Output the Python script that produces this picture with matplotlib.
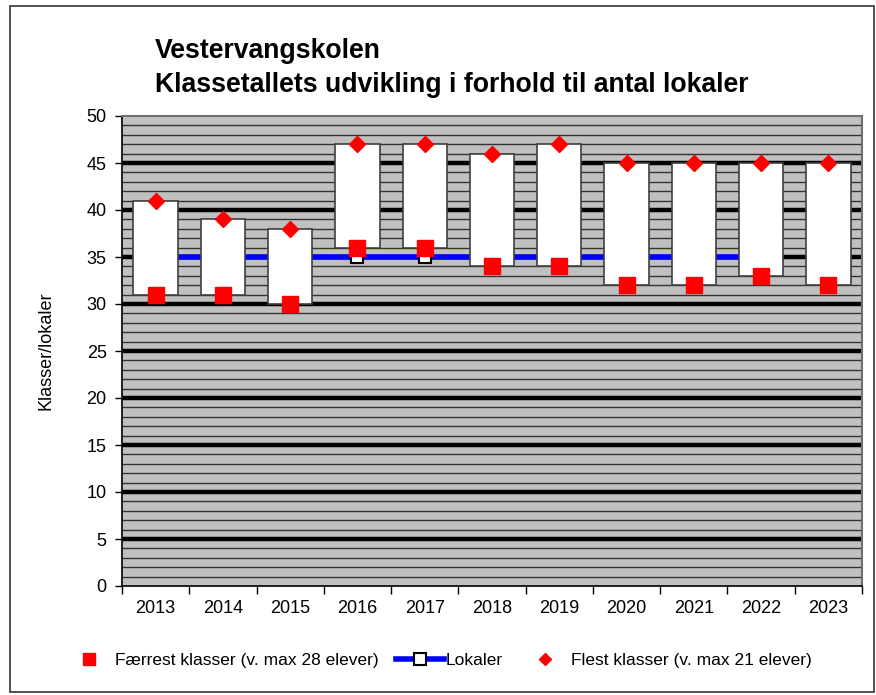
import matplotlib
matplotlib.use("Agg")
import matplotlib.pyplot as plt
from matplotlib.patches import Rectangle
from matplotlib.lines import Line2D
import numpy as np

plt.rcParams['font.family'] = ['Liberation Sans', 'DejaVu Sans']

years = ['2013', '2014', '2015', '2016', '2017', '2018', '2019', '2020', '2021', '2022', '2023']
faerrest = [31, 31, 30, 36, 36, 34, 34, 32, 32, 33, 32]
flest = [41, 39, 38, 47, 47, 46, 47, 45, 45, 45, 45]
lokaler = [35, 35, 35, 35, 35, 35, 35, 35, 35, 35]

W, H = 876, 695
fig = plt.figure(figsize=(W / 100, H / 100), dpi=100)
fig.patch.set_facecolor('white')
fig.add_artist(Rectangle((10 / W, 1 - 692 / H), 864 / W, 686 / H, transform=fig.transFigure,
                         fill=False, edgecolor='#333333', linewidth=1.2))

L, R, T, B = 122, 862, 116, 586
ax = fig.add_axes([L / W, 1 - B / H, (R - L) / W, (B - T) / H])
ax.set_facecolor('#c0c0c0')

x = np.arange(len(years))
ax.set_xlim(-0.5, len(years) - 0.5)
ax.set_ylim(0, 50)

# gridlines
for v in range(1, 50):
    if v % 5 == 0:
        ax.axhline(v, color='black', linewidth=3.2, zorder=1)
    else:
        ax.axhline(v, color='#333333', linewidth=1.0, zorder=1)

# Lokaler line (behind bars)
xl = x[:len(lokaler)]
ax.plot(xl, lokaler, color='#0000ff', linewidth=4, zorder=2)
ax.plot(xl, lokaler, linestyle='none', marker='s', markersize=9, markerfacecolor='white',
        markeredgecolor='black', markeredgewidth=1.5, zorder=2)

# floating bars
heights = [b - a for a, b in zip(faerrest, flest)]
ax.bar(x, heights, bottom=faerrest, width=0.66, color='white', edgecolor='#404040',
       linewidth=1.2, zorder=3)

ax.plot(x, faerrest, linestyle='none', marker='s', markersize=11, color='#ff0000', zorder=4)
ax.plot(x, flest, linestyle='none', marker='D', markersize=8.5, color='#ff0000', zorder=4)

ax.set_yticks(range(0, 51, 5))
ax.set_xticks(x)
ax.set_xticklabels(years)
ax.set_xticks(np.arange(-0.5, len(years), 1.0), minor=True)
ax.tick_params(axis='x', which='major', length=0, pad=10, labelsize=13)
ax.tick_params(axis='x', which='minor', length=6, width=1, direction='out')
ax.tick_params(axis='y', length=5, width=1, direction='out', labelsize=13, pad=6)
for s in ['left', 'bottom']:
    ax.spines[s].set_color('black')
    ax.spines[s].set_linewidth(1.2)
for s in ['top', 'right']:
    ax.spines[s].set_color('#707070')
    ax.spines[s].set_linewidth(1.5)
ax.set_ylabel('Klasser/lokaler', fontsize=13, labelpad=23)

fig.text(155 / W, 1 - 68 / H, 'Vestervangskolen\nKlassetallets udvikling i forhold til antal lokaler',
         fontsize=19.2, fontweight='bold', ha='left', va='center', linespacing=1.35)

handles = [
    Line2D([], [], linestyle='none', marker='s', markersize=8, color='#ff0000'),
    Line2D([], [], color='#0000ff', linewidth=4, marker='s', markersize=8,
           markerfacecolor='white', markeredgecolor='black', markeredgewidth=1.5),
    Line2D([], [], linestyle='none', marker='D', markersize=6, color='#ff0000'),
]
labels = ['Færrest klasser (v. max 28 elever)', 'Lokaler', 'Flest klasser (v. max 21 elever)']
fig.legend(handles, labels, loc='center', bbox_to_anchor=(438 / W, 1 - 660 / H), ncol=3,
           frameon=False, fontsize=12.5, handlelength=2.8, columnspacing=1.0, handletextpad=0.1)

fig.savefig('out.png', dpi=100)
